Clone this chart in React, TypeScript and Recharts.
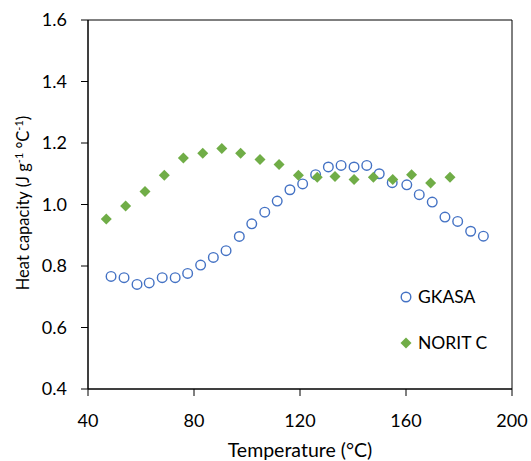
import React from 'react';
import { ScatterChart, Scatter, XAxis, YAxis, ReferenceArea } from 'recharts';

const xTicks = [40, 80, 120, 160, 200];
const yTicks = [0.4, 0.6, 0.8, 1.0, 1.2, 1.4, 1.6];

const gkasaTemp = [48.7, 53.6, 58.5, 63.1, 68, 72.9, 77.6, 82.5, 87.3, 92.1, 97.1, 101.8, 106.7, 111.4, 116.2, 121, 125.9, 130.7, 135.5, 140.4, 145.2, 149.9, 154.8, 160.3, 165, 169.9, 174.7, 179.5, 184.4, 189.2];
const gkasaCp = [0.766, 0.762, 0.74, 0.745, 0.762, 0.762, 0.776, 0.803, 0.828, 0.85, 0.896, 0.937, 0.975, 1.011, 1.048, 1.067, 1.097, 1.122, 1.127, 1.122, 1.127, 1.1, 1.071, 1.064, 1.032, 1.008, 0.959, 0.945, 0.913, 0.897];

const noritTemp = [46.9, 54.2, 61.5, 68.8, 76, 83.3, 90.5, 97.6, 104.9, 112.1, 119.4, 126.5, 133.2, 140.4, 147.7, 155, 162.1, 169.3, 176.6];
const noritCp = [0.953, 0.995, 1.042, 1.095, 1.151, 1.167, 1.182, 1.167, 1.146, 1.13, 1.095, 1.089, 1.091, 1.081, 1.089, 1.081, 1.097, 1.07, 1.089];

const gkasa = gkasaTemp.map((t, i) => ({ t, cp: gkasaCp[i] }));
const norit = noritTemp.map((t, i) => ({ t, cp: noritCp[i] }));

const BLUE = '#4472C4';
const GREEN = '#70AD47';
const FONT = 'Lato, "Open Sans", sans-serif';

const Circle = (p: any) => (
  <circle cx={p.cx} cy={p.cy} r={4.8} fill="#fff" stroke={BLUE} strokeWidth={1.4} />
);

const Diamond = (p: any) => (
  <path d={`M${p.cx},${p.cy - 5.5} L${p.cx + 5.5},${p.cy} L${p.cx},${p.cy + 5.5} L${p.cx - 5.5},${p.cy} Z`} fill={GREEN} />
);

const YLabel = () => (
  <text x={0} y={0} transform="translate(29,203) rotate(-90)" textAnchor="middle" fontSize={16.5} fontFamily={FONT} fill="#000">
    Heat capacity (J g<tspan dy={-6} fontSize={11}>-1</tspan>
    <tspan dy={6}> °C</tspan><tspan dy={-6} fontSize={11}>-1</tspan>
    <tspan dy={6}>)</tspan>
  </text>
);

const XLabel = () => (
  <text x={300} y={457} textAnchor="middle" fontSize={19.5} fontFamily={FONT} fill="#000">Temperature (°C)</text>
);

// legend drawn as an overlay, recharts' Legend would shrink the plot area
const LegendBox = () => (
  <div style={{ position: 'absolute', left: 399, top: 285, fontFamily: FONT, fontSize: 17.5, color: '#000', lineHeight: '24px' }}>
    <div style={{ display: 'flex', alignItems: 'center', height: 24 }}>
      <svg width={16} height={14}><circle cx={7} cy={7} r={4.8} fill="#fff" stroke={BLUE} strokeWidth={1.4} /></svg>
      <span style={{ marginLeft: 3 }}>GKASA</span>
    </div>
    <div style={{ display: 'flex', alignItems: 'center', height: 24, marginTop: 22 }}>
      <svg width={16} height={14}><path d="M7,1.5 L12.5,7 L7,12.5 L1.5,7 Z" fill={GREEN} /></svg>
      <span style={{ marginLeft: 3 }}>NORIT C</span>
    </div>
  </div>
);

export default function App() {
  return (
    <div style={{ position: 'absolute', left: 0, top: 0, width: 531, height: 461, background: '#fff' }}>
      <ScatterChart width={531} height={461} margin={{ top: 20, right: 19, left: 18, bottom: 22 }}>
        <XAxis
          type="number" dataKey="t" domain={[40, 200]} ticks={xTicks} allowDataOverflow
          stroke="#000" tickSize={7} tickMargin={18} height={50}
          tick={{ fontSize: 18, fill: '#000', fontFamily: FONT }}
          label={<XLabel />}
        />
        <YAxis
          type="number" dataKey="cp" domain={[0.4, 1.6]} ticks={yTicks} allowDataOverflow
          stroke="#000" tickSize={7} tickMargin={14} width={70}
          tickFormatter={(v: number) => v.toFixed(1)}
          tick={{ fontSize: 18, fill: '#000', fontFamily: FONT }}
          label={<YLabel />}
        />
        <ReferenceArea x1={40} x2={200} y1={0.4} y2={1.6} fill="none" fillOpacity={0} stroke="#000" strokeWidth={1} />
        <Scatter name="GKASA" data={gkasa} shape={Circle} isAnimationActive={false} />
        <Scatter name="NORIT C" data={norit} shape={Diamond} isAnimationActive={false} />
      </ScatterChart>
      <LegendBox />
    </div>
  );
}
